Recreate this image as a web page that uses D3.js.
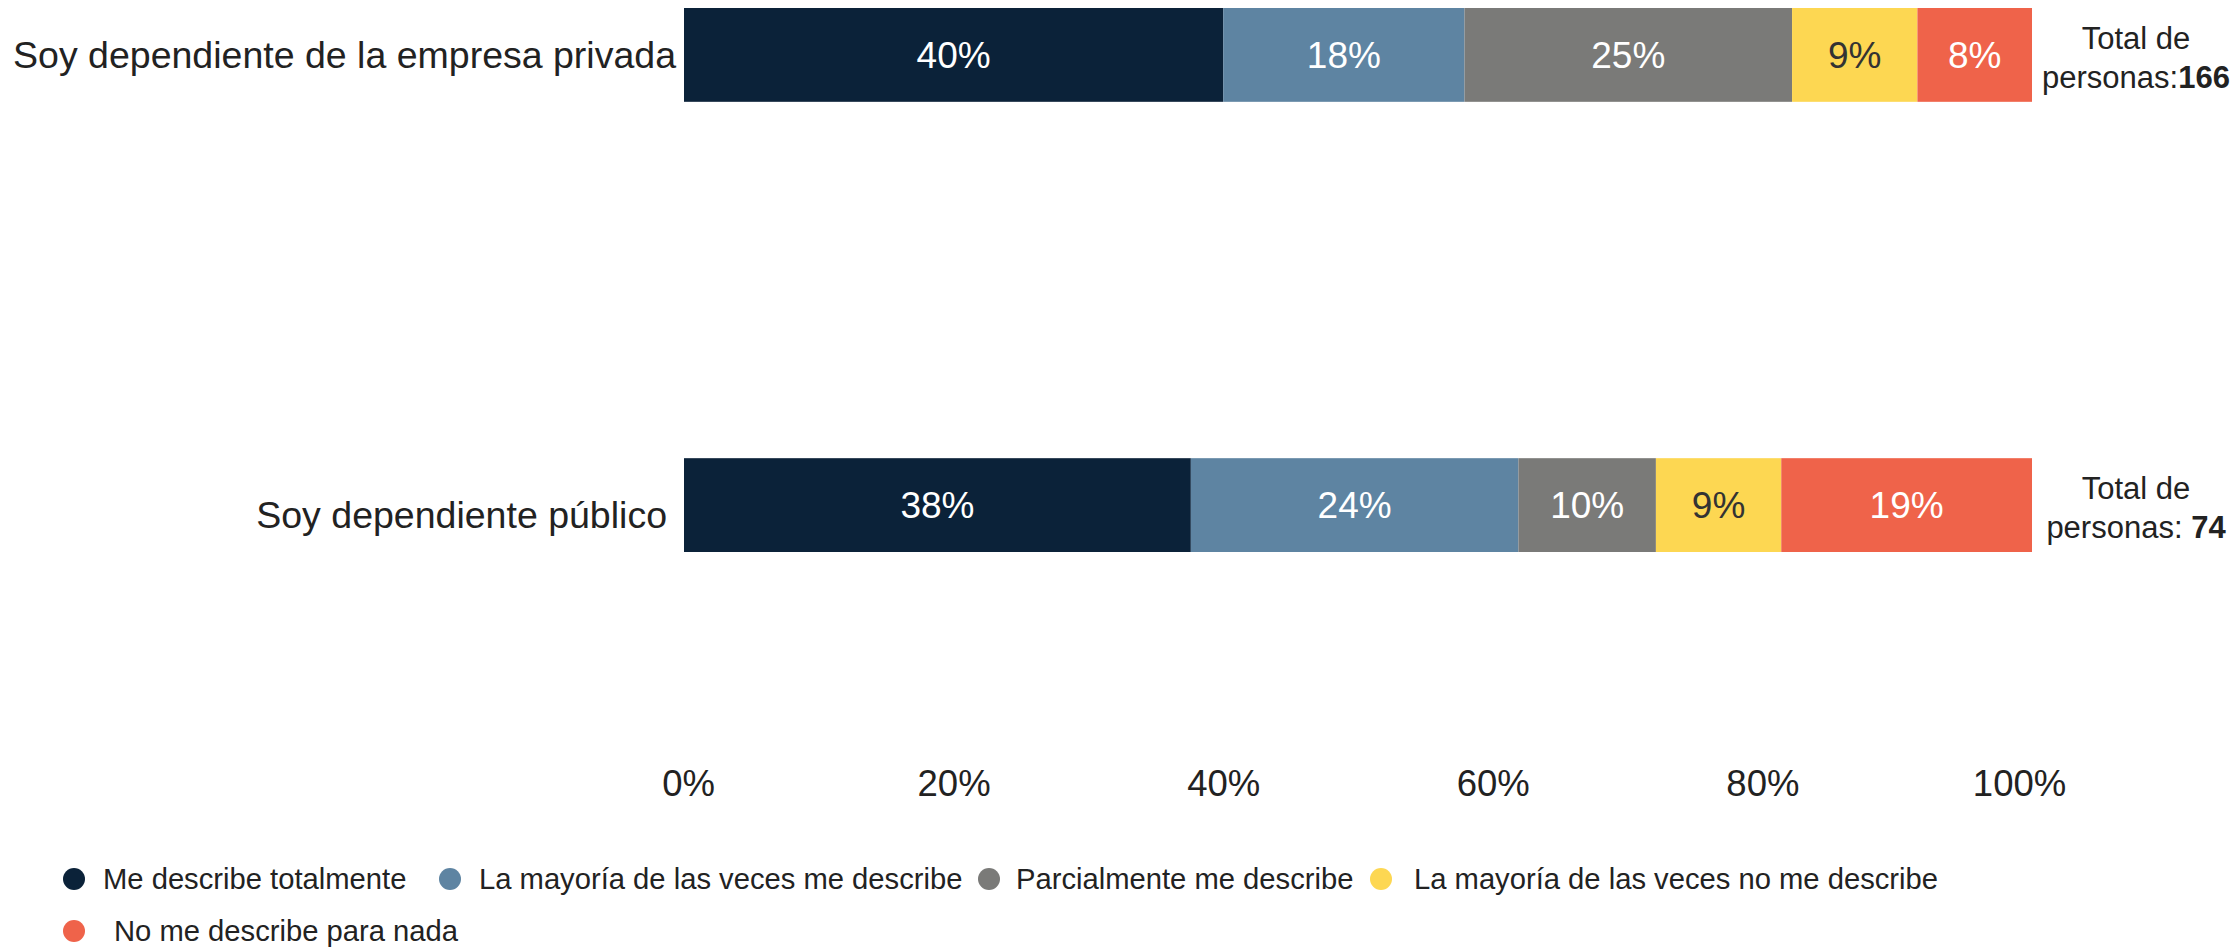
<!DOCTYPE html>
<html>
<head>
<meta charset="utf-8">
<script src="https://cdn.jsdelivr.net/npm/d3@7"></script>
<style>
  html, body { margin: 0; padding: 0; background: #fff; }
  svg { display: block; font-family: "Liberation Sans", Arial, Helvetica, sans-serif; }
</style>
</head>
<body>
<svg id="chart" width="2240" height="948"></svg>
<script>
// ---- data ----
const categories = ["Soy dependiente de la empresa privada", "Soy dependiente público"];
const seriesNames = ["Me describe totalmente", "La mayoría de las veces me describe", "Parcialmente me describe", "La mayoría de las veces no me describe", "No me describe para nada"];
// segment widths (percent)
const privada = [40.0, 17.9, 24.3, 9.3, 8.5];
const publico = [37.6, 24.3, 10.2, 9.3, 18.6];
// labels printed on the segments
const privadaLabels = ["40%", "18%", "25%", "9%", "8%"];
const publicoLabels = ["38%", "24%", "10%", "9%", "19%"];
const totals = ["166", "74"];
const totalPrefix = ["personas:", "personas: "];
const tickValues = [0, 20, 40, 60, 80, 100];
const colors = ["#0b2239", "#5e84a2", "#7a7a78", "#fdd752", "#ef634a"];
const labelColors = ["#ffffff", "#ffffff", "#ffffff", "#333333", "#ffffff"];

const values = [privada, publico];
const segLabels = [privadaLabels, publicoLabels];

const svg = d3.select("#chart");
const x = d3.scaleLinear().domain([0, 100]).range([684, 2032]);
const y = d3.scaleBand().domain(categories).range([8, 552]).paddingInner(0.7916).paddingOuter(0);
const color = d3.scaleOrdinal().domain(seriesNames).range(colors);

const rows = categories.map((c, i) => {
  let acc = 0;
  return values[i].map((v, j) => {
    const seg = {cat: c, name: seriesNames[j], v, label: segLabels[i][j], x0: acc, x1: acc + v, j};
    acc += v;
    return seg;
  });
});

const g = svg.append("g");
rows.forEach((segs, i) => {
  const row = g.append("g");
  row.selectAll("rect").data(segs).join("rect")
    .attr("x", d => x(d.x0))
    .attr("y", y(segs[0].cat))
    .attr("width", d => x(d.x1) - x(d.x0))
    .attr("height", y.bandwidth())
    .attr("fill", d => color(d.name));
  row.selectAll("text").data(segs).join("text")
    .attr("x", d => (x(d.x0) + x(d.x1)) / 2)
    .attr("y", y(segs[0].cat) + y.bandwidth() / 2)
    .attr("dy", "0.35em")
    .attr("text-anchor", "middle")
    .attr("font-size", 37)
    .attr("fill", d => labelColors[d.j])
    .text(d => d.label);
});

// category labels
const catDx = [-8, -17];
const catDy = [0, 10];
g.selectAll("text.cat").data(categories).join("text")
  .attr("class", "cat")
  .attr("x", (d, i) => x(0) + catDx[i])
  .attr("y", (d, i) => y(d) + y.bandwidth() / 2 + catDy[i])
  .attr("dy", "0.35em")
  .attr("text-anchor", "end")
  .attr("font-size", 37.5)
  .attr("fill", "#222")
  .text(d => d);

// totals
categories.forEach((c, i) => {
  const cy = y(c) + y.bandwidth() / 2;
  const t = g.append("text")
    .attr("text-anchor", "middle")
    .attr("font-size", 31)
    .attr("fill", "#222");
  t.append("tspan").attr("x", 2136).attr("y", cy - 17).attr("dy", "0.35em").text("Total de");
  const t2 = t.append("tspan").attr("x", 2136).attr("y", cy + 22).attr("dy", "0.35em");
  t2.append("tspan").text(totalPrefix[i]);
  t2.append("tspan").attr("font-weight", "bold").text(totals[i]);
});

// x axis
const axis = d3.axisBottom(x).tickValues(tickValues).tickSize(0).tickFormat(d => d + "%");
const ax = svg.append("g").attr("transform", "translate(0,767)").call(axis);
ax.select(".domain").remove();
ax.selectAll("text")
  .attr("font-size", 36.5)
  .attr("fill", "#222")
  .attr("font-family", "Liberation Sans, Arial, sans-serif")
  .attr("dx", d => d === 0 ? 4 : (d === 100 ? -13 : 0));

// legend
const legendPos = [
  {cx: 74, tx: 103, cy: 879},
  {cx: 450, tx: 479, cy: 879},
  {cx: 989, tx: 1016, cy: 879},
  {cx: 1381, tx: 1414, cy: 879},
  {cx: 74, tx: 114, cy: 931}
];
const leg = svg.append("g");
seriesNames.forEach((n, i) => {
  const p = legendPos[i];
  leg.append("circle").attr("cx", p.cx).attr("cy", p.cy).attr("r", 11).attr("fill", color(n));
  leg.append("text").attr("x", p.tx).attr("y", p.cy).attr("dy", "0.35em")
    .attr("font-size", 29.2).attr("fill", "#222").text(n);
});
</script>
</body>
</html>
